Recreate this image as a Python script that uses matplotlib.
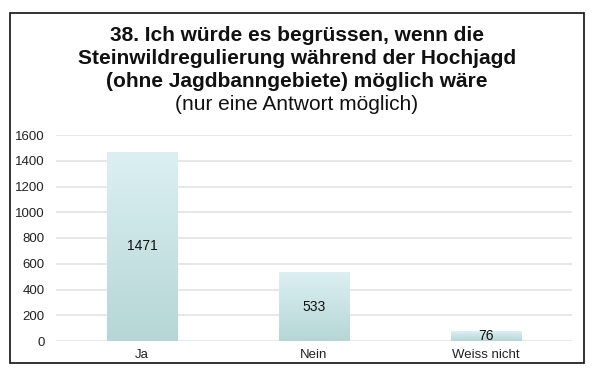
import matplotlib
matplotlib.use("Agg")
import matplotlib.pyplot as plt
import numpy as np
from matplotlib.patches import Rectangle
from matplotlib.colors import LinearSegmentedColormap

categories = ["Ja", "Nein", "Weiss nicht"]
values = [1471, 533, 76]
yticks = [0, 200, 400, 600, 800, 1000, 1200, 1400, 1600]

title_lines = ["38. Ich würde es begrüssen, wenn die",
               "Steinwildregulierung während der Hochjagd",
               "(ohne Jagdbanngebiete) möglich wäre"]
subtitle = "(nur eine Antwort möglich)"

plt.rcParams['font.family'] = ['Liberation Sans', 'DejaVu Sans']

W, H = 594, 379
fig = plt.figure(figsize=(W / 100, H / 100), dpi=100)
fig.patch.set_facecolor("white")

# border
fig.patches.append(Rectangle((10 / W, 1 - 363 / H), 574 / W, 350 / H,
                             transform=fig.transFigure, fill=False,
                             edgecolor="#111111", linewidth=1.2))

ax = fig.add_axes([56 / W, 1 - 341 / H, 516 / W, 206 / H])
ax.set_xlim(-0.5, len(categories) - 0.5)
ax.set_ylim(0, 1600)
ax.set_yticks(yticks)
ax.set_yticklabels([str(t) for t in yticks])
ax.set_xticks(range(len(categories)))
ax.set_xticklabels(categories)
for s in ax.spines.values():
    s.set_visible(False)
ax.tick_params(axis="both", length=0, labelsize=9.5, colors="#222222")
ax.tick_params(axis="y", pad=8)
ax.tick_params(axis="x", pad=6)
ax.grid(axis="y", color="#e3e3e3", linewidth=1.2)
ax.set_axisbelow(True)

cmap = LinearSegmentedColormap.from_list("g", ["#b6d6d6", "#dcf0f2"])
grad = np.linspace(0, 1, 256).reshape(-1, 1)
bw = 0.41
bars = ax.bar(range(len(categories)), values, width=bw, color="none",
              edgecolor="none", zorder=2)
for b, v in zip(bars, values):
    x0 = b.get_x()
    im = ax.imshow(grad, cmap=cmap, origin="lower", aspect="auto",
                   extent=(x0, x0 + bw, 0, v), zorder=2)
    im.set_clip_path(b)
    ax.text(b.get_x() + bw / 2, v / 2, str(v), ha="center", va="center",
            fontsize=10, color="#111111", zorder=3)
ax.set_xlim(-0.5, len(categories) - 0.5)
ax.set_ylim(0, 1600)

ys = [35.5, 58.5, 81.5]
for t, y in zip(title_lines, ys):
    fig.text(297 / W, 1 - y / H, t, ha="center", va="center",
             fontsize=15, fontweight="bold", color="#111111")
fig.text(297 / W, 1 - 104.5 / H, subtitle, ha="center", va="center",
         fontsize=15, color="#111111")

fig.savefig("out.png", dpi=100)
